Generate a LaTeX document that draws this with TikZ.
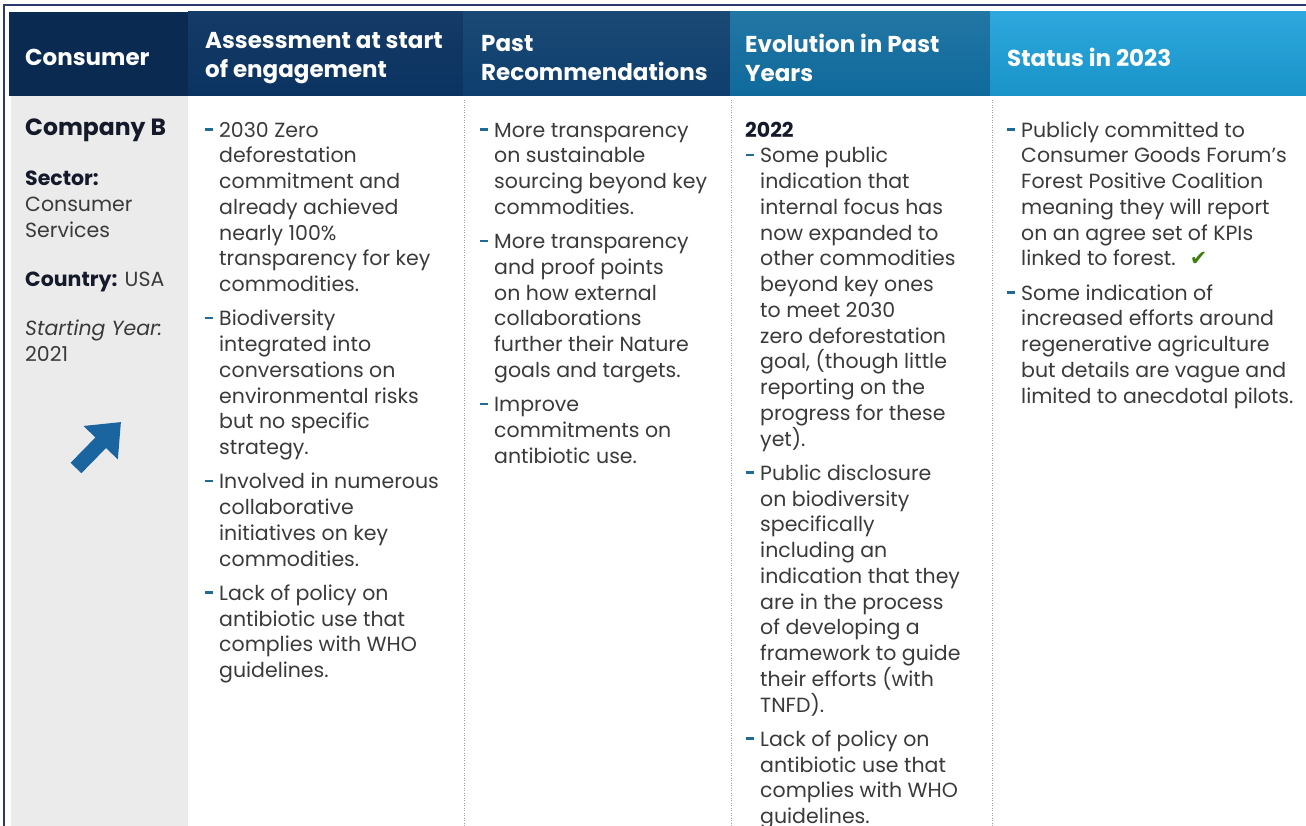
\documentclass[tikz,border=0pt]{standalone}
\usepackage{fontspec}
\setmainfont{Poppins}
\newfontfamily\symfont{DejaVu Sans}
\usetikzlibrary{arrows.meta}

\definecolor{framenavy}{HTML}{2B3A6B}
\definecolor{hdrone}{HTML}{0A2A52}
\definecolor{hdrtwo}{HTML}{0B3361}
\definecolor{hdrthree}{HTML}{0D3E6D}
\definecolor{hdrfour}{HTML}{0F6A9C}
\definecolor{hdrfive}{HTML}{1BA0DA}
\definecolor{greycol}{HTML}{EBEBEB}
\definecolor{ink}{HTML}{3A3A3A}
\definecolor{darkink}{HTML}{151A2A}
\definecolor{bulletblue}{HTML}{1F6B96}
\definecolor{arrowblue}{HTML}{1A64A0}
\definecolor{checkgreen}{HTML}{3F7F0E}

\newcommand{\itm}{\leavevmode\llap{\textcolor{bulletblue}{\rule[6.5pt]{8pt}{2.6pt}}\hspace{6pt}}}

\tikzset{
  hdtext/.style={anchor=west, inner sep=0pt, align=left, text=white,
    font=\fontsize{23}{29}\selectfont\bfseries},
  bodytext/.style={anchor=north west, inner sep=0pt, align=left, text=ink,
    font=\fontsize{20.5}{25.75}\selectfont},
  divider/.style={gray!75, line width=1pt, dash pattern=on 1pt off 1.5pt},
}

\begin{document}
\begin{tikzpicture}[x=1pt, y=-1pt]
\useasboundingbox (0,0) rectangle (1306,826);

% Header band
\fill[hdrone] (9,12) rectangle (188,96);
\shade[top color=hdrtwo!96!white, bottom color=hdrtwo] (188,12) rectangle (463,96);
\shade[top color=hdrthree!94!white, bottom color=hdrthree] (463,12) rectangle (730,96);
\shade[top color=hdrfour!92!white, bottom color=hdrfour] (730,12) rectangle (990,96);
\shade[top color=hdrfive!92!white, bottom color=hdrfive!92!black] (990,12) rectangle (1306,96);

% Grey first column
\fill[greycol] (11,96) rectangle (188,826);

% Frame
\draw[framenavy, line width=2pt] (4,826) -- (4,5) -- (1306,5);

% Dotted dividers
\draw[divider] (464,100) -- (464,826);
\draw[divider] (731,100) -- (731,826);
\draw[divider] (992,100) -- (992,826);

% Header labels
\node[hdtext] (hdcons) at (25,57) {Consumer};
\node[hdtext] (hdassess) at (205,58) {Assessment at start\\of engagement};
\node[hdtext] (hdpast) at (481,58) {Past\\Recommendations};
\node[hdtext] (hdevol) at (745,58) {Evolution in Past\\Years};
\node[hdtext] (hdstatus) at (1007,57) {Status in 2023};

% Consumer column
\node[bodytext] (consumer) at (25,117) {\strut{\fontsize{23.5}{25.75}\selectfont\bfseries\color{darkink}Company B}\\[25pt]
  {\bfseries\color{darkink}Sector:}\\
  Consumer\\
  Services\\[23.5pt]
  {\bfseries\color{darkink}Country:} USA\\[23.5pt]
  \textit{Starting Year:}\\
  2021};

% Trend arrow
\coordinate (arrtail) at (76,468);
\coordinate (arrtip) at (121,422);
\draw[arrowblue, line width=15pt, -{Triangle[length=29pt,width=46pt]}] (arrtail) -- (arrtip);

% Assessment column
\node[bodytext] (assess) at (219,119) {\strut\itm 2030 Zero\\
  deforestation\\
  commitment and\\
  already achieved\\
  nearly 100\%\\
  transparency for key\\
  commodities.\\[8.5pt]
  \itm Biodiversity\\
  integrated into\\
  conversations on\\
  environmental risks\\
  but no specific\\
  strategy.\\[8.5pt]
  \itm Involved in numerous\\
  collaborative\\
  initiatives on key\\
  commodities.\\[8.5pt]
  \itm Lack of policy on\\
  antibiotic use that\\
  complies with WHO\\
  guidelines.};

% Past recommendations column
\node[bodytext] (pastrec) at (494,119) {\strut\itm More transparency\\
  on sustainable\\
  sourcing beyond key\\
  commodities.\\[8.5pt]
  \itm More transparency\\
  and proof points\\
  on how external\\
  collaborations\\
  further their Nature\\
  goals and targets.\\[8.5pt]
  \itm Improve\\
  commitments on\\
  antibiotic use.};

% Evolution column
\node[bodytext] (evol) at (760,119) {\strut\makebox[0pt][l]{\hspace*{-15pt}\bfseries\color{darkink}2022}\\
  \itm Some public\\
  indication that\\
  internal focus has\\
  now expanded to\\
  other commodities\\
  beyond key ones\\
  to meet 2030\\
  zero deforestation\\
  goal, (though little\\
  reporting on the\\
  progress for these\\
  yet).\\[8.5pt]
  \itm Public disclosure\\
  on biodiversity\\
  specifically\\
  including an\\
  indication that they\\
  are in the process\\
  of developing a\\
  framework to guide\\
  their efforts (with\\
  TNFD).\\[8.5pt]
  \itm Lack of policy on\\
  antibiotic use that\\
  complies with WHO\\
  guidelines.};

% Status column
\node[bodytext] (status) at (1021,119) {\strut\itm Publicly committed to\\
  Consumer Goods Forum’s\\
  Forest Positive Coalition\\
  meaning they will report\\
  on an agree set of KPIs\\
  linked to forest.\hspace{14pt}{\symfont\fontsize{21}{20}\selectfont\textcolor{checkgreen}{✔}}\\[8.5pt]
  \itm Some indication of\\
  increased efforts around\\
  regenerative agriculture\\
  but details are vague and\\
  limited to anecdotal pilots.};

\end{tikzpicture}
\end{document}
